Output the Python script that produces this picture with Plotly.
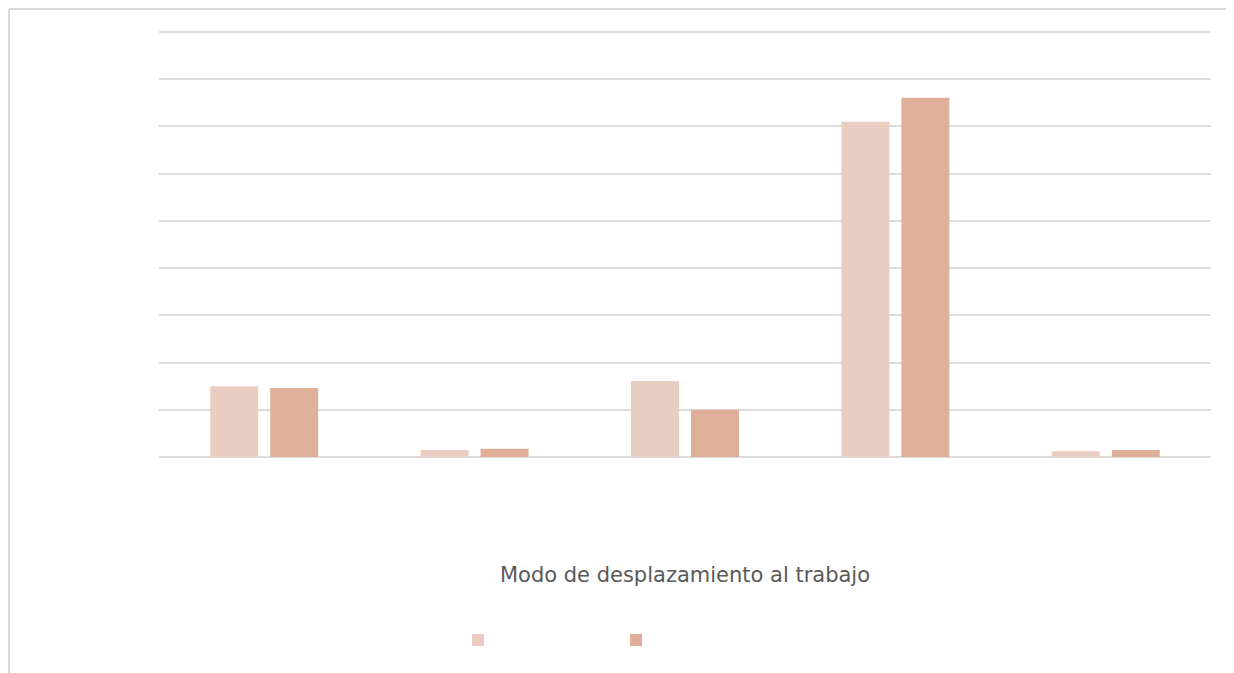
import plotly.graph_objects as go

categories = ["A pie", "Bicicleta", "Transporte público", "Vehículo privado", "Otros"]
series_names = ["2011", "2021"]
values_a = [15.0, 1.5, 16.1, 71.0, 1.2]
values_b = [14.6, 1.75, 10.0, 76.1, 1.5]
colors = ["#e9cdc2", "#e0af9a"]
y_ticks = [0, 10, 20, 30, 40, 50, 60, 70, 80, 90]

OFF = 8  # page body margin
W, H = 1234, 673
L, R, T, B = 151, 31, 22, 224
pw, ph = W - L - R, H - T - B
y_top = 90 * ph / 425.0

def sx(p):  # screen px -> paper x
    return (p - OFF - L) / pw

def sy(p):  # screen px -> paper y
    return (H - B - (p - OFF)) / ph

fig = go.Figure()
for name, vals, col in zip(series_names, [values_a, values_b], colors):
    fig.add_trace(go.Bar(x=categories, y=vals, name=name, marker=dict(color=col, line=dict(width=0))))

frame_line = dict(color="#d9d9d9", width=2)
fig.update_layout(
    width=W, height=H,
    margin=dict(l=L, r=R, t=T, b=B),
    paper_bgcolor="white", plot_bgcolor="white",
    barmode="group", bargap=0.43, bargroupgap=0.2,
    font=dict(family="DejaVu Sans, sans-serif", color="#595959"),
    showlegend=True,
    legend=dict(orientation="h", x=sx(458), y=sy(624.5), xanchor="left", yanchor="top",
                entrywidth=113, entrywidthmode="pixels",
                font=dict(color="white", size=14), bgcolor="rgba(0,0,0,0)"),
    xaxis=dict(showticklabels=False, showgrid=False, showline=False, ticks="",
               title=dict(text="Modo de desplazamiento al trabajo",
                          font=dict(size=21, color="#595959"),
                          standoff=110)),
    yaxis=dict(range=[0, y_top], tickvals=y_ticks, showticklabels=False, showgrid=True,
               gridcolor="#dcdcdc", gridwidth=2, zeroline=True, zerolinecolor="#dcdcdc",
               zerolinewidth=2, showline=False, ticks=""),
    shapes=[
        dict(type="line", xref="paper", yref="paper", x0=sx(9), x1=sx(1260), y0=sy(9), y1=sy(9),
             line=frame_line, layer="below"),
        dict(type="line", xref="paper", yref="paper", x0=sx(9), x1=sx(9), y0=sy(9), y1=sy(700),
             line=frame_line, layer="below"),
    ],
)

fig.write_html("out.html")
